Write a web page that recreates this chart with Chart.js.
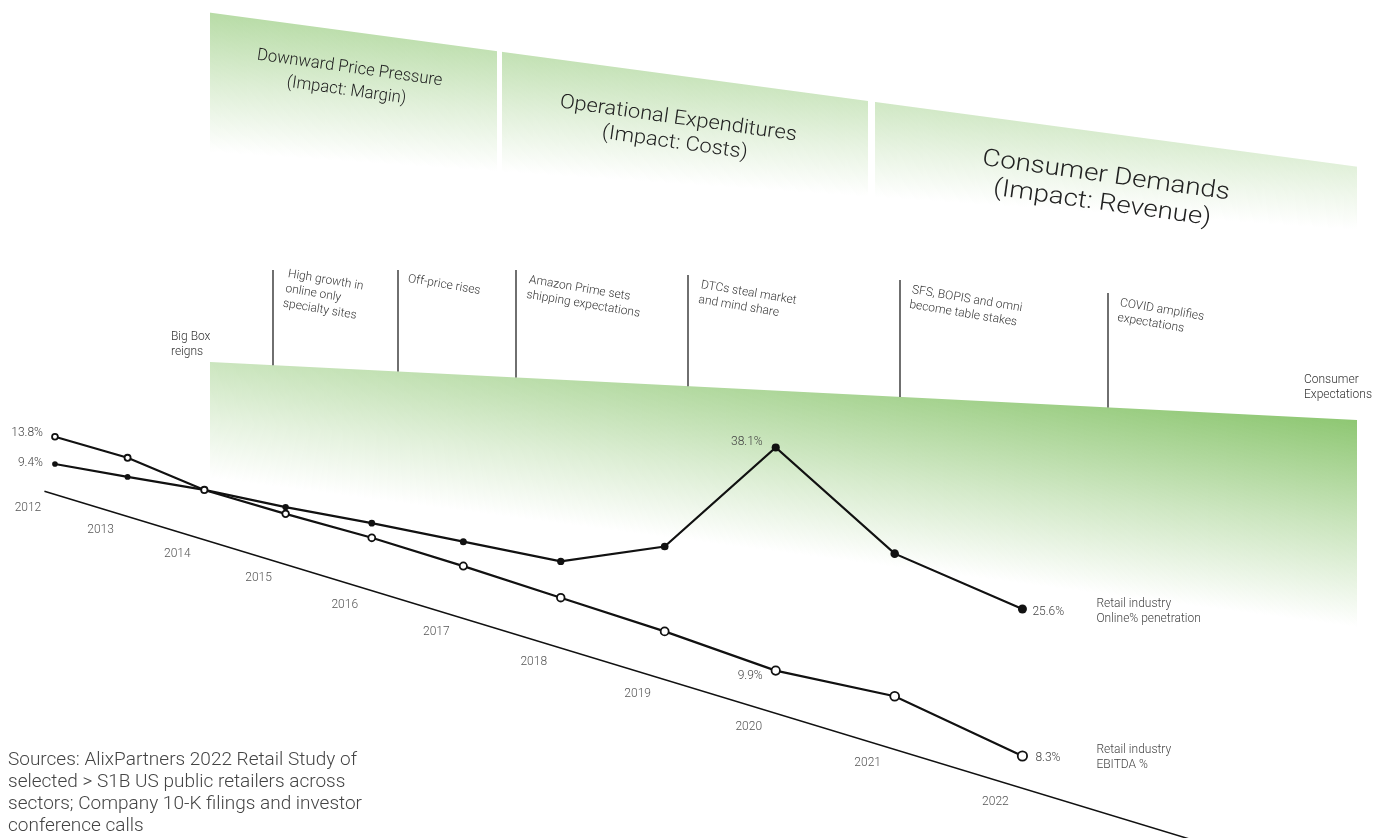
<!DOCTYPE html>
<html>
<head>
<meta charset="utf-8">
<title>Retail industry: online penetration vs EBITDA</title>
<script src="https://cdn.jsdelivr.net/npm/chart.js@4.4.0/dist/chart.umd.min.js"></script>
<style>
  html, body { margin: 0; padding: 0; background: #fff; }
  #wrap { width: 1385px; height: 838px; position: relative; overflow: hidden; }
</style>
</head>
<body>
<div id="wrap"><canvas id="chart" width="1385" height="838"></canvas></div>
<script>
// --- data ---
const years = [2012, 2013, 2014, 2015, 2016, 2017, 2018, 2019, 2020, 2021, 2022];
const ebitdaPct = [13.8, 13.7, 12.1, 12.0, 12.1, 11.8, 11.3, 10.8, 9.9, 11.0, 8.3];
const onlinePct = [9.4, 10.7, 12.1, 13.0, 14.2, 15.2, 16.2, 21.9, 38.1, 28.4, 25.6];
const ebitdaName = ['Retail industry', 'EBITDA %'];
const onlineName = ['Retail industry', 'Online% penetration'];
const labelledIdx = [0, 8, 10];

const pillarTitles = [
    ['Downward Price Pressure', '(Impact: Margin)'],
    ['Operational Expenditures', '(Impact: Costs)'],
    ['Consumer Demands', '(Impact: Revenue)']
];
const milestones = [
    ['High growth in', 'online only', 'specialty sites'],
    ['Off-price rises'],
    ['Amazon Prime sets', 'shipping expectations'],
    ['DTCs steal market', 'and mind share'],
    ['SFS, BOPIS and omni', 'become table stakes'],
    ['COVID amplifies', 'expectations']
];
const startNote = ['Big Box', 'reigns'];
const planeNote = ['Consumer', 'Expectations'];
const sourceLines = [
    'Sources: AlixPartners 2022 Retail Study of',
    'selected > S1B US public retailers across',
    'sectors; Company 10-K filings and investor',
    'conference calls'
];

// --- layout (screen pixels) ---
// corners of the tilted plot plane: left/right x, top/bottom y at each side
const QUAD = { xl: 44.4, xr: 1203.3, tl: 271.8, bl: 491.2, tr: 526.4, br: 843.2 };
const GREEN = '140,198,112';
const FONT = 'Roboto, "Noto Sans", sans-serif';
const pillarLayout = [
    { cx: 348, cy: 79.5, size: 17, weight: 300, width: 187, gap: 22.8 },
    { cx: 676.5, cy: 131, size: 20, weight: 300, width: 239, gap: 24.5 },
    { cx: 1104, cy: 190, size: 24, weight: 300, width: 249.5, gap: 28 }
];
// [line x, line top, text x, text top]
const milestoneLayout = [
    [273, 270, 289, 268],
    [398, 270, 409, 273],
    [516, 270, 530, 274],
    [688, 275, 702, 279],
    [900, 280, 913, 284],
    [1108, 293, 1121, 297]
];

let warpCache = null;
function getWarp(chart) {
    const a = chart.chartArea || { left: 0, top: 0, right: chart.width, bottom: chart.height };
    const key = [a.left, a.top, a.right, a.bottom].join(',');
    if (warpCache && warpCache.key === key) return warpCache.fn;
    // unit square -> quad (BL, BR, TR, TL)
    const x0 = QUAD.xl, y0 = QUAD.bl, x1 = QUAD.xr, y1 = QUAD.br;
    const x2 = QUAD.xr, y2 = QUAD.tr, x3 = QUAD.xl, y3 = QUAD.tl;
    const sx = x0 - x1 + x2 - x3, sy = y0 - y1 + y2 - y3;
    const dx1 = x1 - x2, dx2 = x3 - x2, dy1 = y1 - y2, dy2 = y3 - y2;
    const den = dx1 * dy2 - dx2 * dy1;
    const g = (sx * dy2 - dx2 * sy) / den;
    const h = (dx1 * sy - sx * dy1) / den;
    const A = x1 - x0 + g * x1, B = x3 - x0 + h * x3, C = x0;
    const D = y1 - y0 + g * y1, E = y3 - y0 + h * y3, F = y0;
    const fn = (px, py) => {
        const u = (px - a.left) / (a.right - a.left);
        const v = (a.bottom - py) / (a.bottom - a.top);
        const w = g * u + h * v + 1;
        return { x: (A * u + B * v + C) / w, y: (D * u + E * v + F) / w, w: w };
    };
    warpCache = { key, fn };
    return fn;
}

// nearer points (to the right) get bigger markers
function depth(c) {
    const ch = c.chart;
    if (!c.parsed || !ch.chartArea || !ch.scales.x) return 1;
    const p = getWarp(ch)(ch.scales.x.getPixelForValue(c.parsed.x), ch.chartArea.bottom);
    return 1 / p.w;
}

function fadeBand(ctx, from, to, topAt, endAt, alphaAt, gaps) {
    for (let x = from; x < to; x++) {
        if (gaps.some(([a, b]) => x >= a && x < b)) continue;
        const t = topAt(x), e = endAt(x), al = alphaAt(x);
        const gr = ctx.createLinearGradient(0, t, 0, e);
        gr.addColorStop(0, `rgba(${GREEN},${al})`);
        gr.addColorStop(0.5, `rgba(${GREEN},${al * 0.48})`);
        gr.addColorStop(1, `rgba(${GREEN},0)`);
        ctx.fillStyle = gr;
        ctx.fillRect(x, t, 1, e - t);
    }
}

function textLines(ctx, lines, x, y, gap, deg, align, baseline) {
    ctx.save();
    ctx.translate(x, y);
    if (deg) ctx.rotate(deg * Math.PI / 180);
    ctx.textAlign = align;
    ctx.textBaseline = baseline;
    lines.forEach((s, i) => ctx.fillText(s, 0, i * gap));
    ctx.restore();
}

const planeTop = x => 362 + (x - 210) * 0.0506;

const perspective = {
    id: 'perspective',
    afterDatasetsUpdate(chart) {
        const warp = getWarp(chart);
        chart.data.datasets.forEach((ds, i) => {
            const meta = chart.getDatasetMeta(i);
            meta.data.forEach(pt => {
                const q = warp(pt.x, pt.y);
                pt.x = q.x;
                pt.y = q.y;
            });
            if (meta.dataset) delete meta.dataset._path;
        });
    },
    beforeDatasetsDraw(chart) {
        const ctx = chart.ctx;
        const area = chart.chartArea;
        const warp = getWarp(chart);
        ctx.save();

        // pillar bands at the top
        fadeBand(ctx, 210, 1357,
            x => 12.7 + (x - 210) * 0.1343,
            x => 152 + (x - 210) * 0.068,
            x => 0.62 - (x - 210) / 1147 * 0.36,
            [[497, 502], [868, 875]]);

        // consumer expectations plane
        fadeBand(ctx, 210, 1357, planeTop,
            x => 478 + (x - 210) * 0.13,
            x => 0.45 + (x - 210) / 1147 * 0.53,
            []);

        // pillar titles
        ctx.fillStyle = '#222';
        pillarTitles.forEach((lines, i) => {
            const L = pillarLayout[i];
            ctx.font = `${L.weight} ${L.size}px ${FONT}`;
            const sx = L.width / ctx.measureText(lines[0]).width;
            const off = -(lines.length - 1) / 2 * L.gap;
            ctx.save();
            ctx.translate(L.cx, L.cy);
            ctx.rotate(8 * Math.PI / 180);
            ctx.scale(sx, 1);
            ctx.textAlign = 'center';
            ctx.textBaseline = 'middle';
            lines.forEach((s, k) => ctx.fillText(s, 0, off + k * L.gap));
            ctx.restore();
        });

        // milestones
        ctx.font = `300 12px ${FONT}`;
        milestones.forEach((lines, i) => {
            const [lx, ltop, tx, ty] = milestoneLayout[i];
            ctx.strokeStyle = '#222';
            ctx.lineWidth = 1.3;
            ctx.beginPath();
            ctx.moveTo(lx, ltop);
            ctx.lineTo(lx, planeTop(lx));
            ctx.stroke();
            ctx.fillStyle = '#333';
            textLines(ctx, lines, tx, ty, 15, 9.5, 'left', 'top');
        });
        ctx.fillStyle = '#333';
        textLines(ctx, startNote, 171, 337, 15, 0, 'left', 'middle');
        textLines(ctx, planeNote, 1304, 380, 15, 0, 'left', 'middle');

        // time axis along the bottom edge of the tilted plane
        const a0 = warp(area.left, area.bottom), a1 = warp(area.right, area.bottom);
        ctx.strokeStyle = '#111';
        ctx.lineWidth = 1.5;
        ctx.beginPath();
        ctx.moveTo(a0.x, a0.y);
        ctx.lineTo(a1.x, a1.y);
        ctx.stroke();

        ctx.fillStyle = '#555';
        ctx.font = `300 12px ${FONT}`;
        ctx.textAlign = 'center';
        ctx.textBaseline = 'middle';
        years.forEach(yr => {
            const p = warp(chart.scales.x.getPixelForValue(yr), area.bottom);
            ctx.fillText(String(yr), p.x - 27, p.y + 14);
        });

        // sources
        ctx.fillStyle = '#444';
        ctx.font = `300 19px ${FONT}`;
        ctx.textAlign = 'left';
        ctx.textBaseline = 'alphabetic';
        sourceLines.forEach((s, i) => ctx.fillText(s, 8, 765 + i * 22));
        ctx.restore();
    },
    afterDatasetsDraw(chart) {
        const ctx = chart.ctx;
        ctx.save();
        ctx.fillStyle = '#444';
        ctx.font = `300 12px ${FONT}`;
        ctx.textBaseline = 'middle';
        const fmt = v => v.toFixed(1) + '%';
        // [dataset index, values, offsets for first / 2020 / last labels]
        const specs = [
            [0, ebitdaPct, [[-12, -4], [-13, 5], [13, 2]]],
            [1, onlinePct, [[-12, -1], [-13, -5], [10, 3]]]
        ];
        specs.forEach(([di, vals, offs]) => {
            const pts = chart.getDatasetMeta(di).data;
            labelledIdx.forEach((idx, k) => {
                const p = pts[idx];
                const [dx, dy] = offs[k];
                ctx.textAlign = dx < 0 ? 'right' : 'left';
                ctx.fillText(fmt(vals[idx]), p.x + dx, p.y + dy);
            });
        });
        // series names after the last point
        const lastE = chart.getDatasetMeta(0).data[years.length - 1];
        const lastO = chart.getDatasetMeta(1).data[years.length - 1];
        textLines(ctx, ebitdaName, lastE.x + 74, lastE.y - 6, 15, 0, 'left', 'middle');
        textLines(ctx, onlineName, lastO.x + 74, lastO.y - 5, 15, 0, 'left', 'middle');
        ctx.restore();
    }
};

new Chart(document.getElementById('chart'), {
    type: 'line',
    data: {
        datasets: [
            {
                label: ebitdaName.join(' '),
                data: years.map((y, i) => ({ x: y, y: ebitdaPct[i] })),
                borderColor: '#111',
                borderWidth: 2.2,
                tension: 0,
                pointBackgroundColor: '#fff',
                pointBorderColor: '#111',
                pointBorderWidth: 1.8,
                pointRadius: c => 2.9 * Math.pow(depth(c), 1.5)
            },
            {
                label: onlineName.join(' '),
                data: years.map((y, i) => ({ x: y, y: onlinePct[i] })),
                borderColor: '#111',
                borderWidth: 2.2,
                tension: 0,
                pointBackgroundColor: '#111',
                pointBorderColor: '#111',
                pointBorderWidth: 0,
                pointRadius: c => 2.8 * Math.pow(depth(c), 1.5)
            }
        ]
    },
    options: {
        responsive: false,
        devicePixelRatio: 1,
        animation: false,
        events: [],
        layout: { padding: 0 },
        scales: {
            x: { type: 'linear', min: 2011.85, max: 2023.3, display: false },
            y: { type: 'linear', min: 4.5, max: 40, display: false }
        },
        plugins: {
            legend: { display: false },
            tooltip: { enabled: false }
        }
    },
    plugins: [perspective]
});
</script>
</body>
</html>
